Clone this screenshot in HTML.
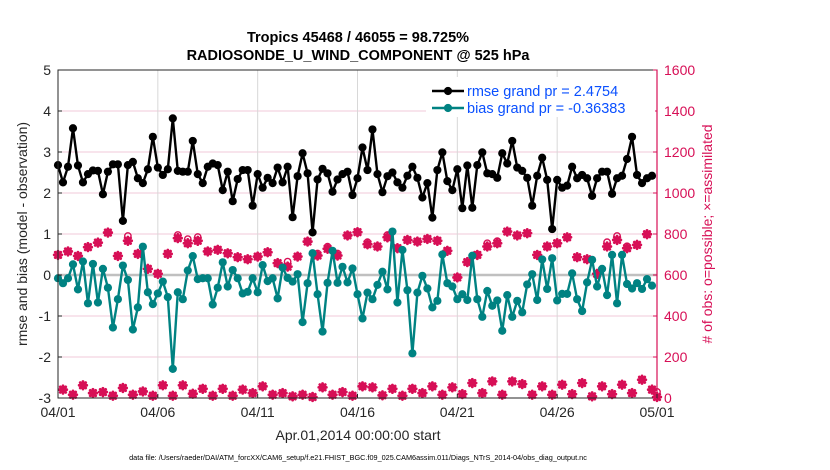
<!DOCTYPE html>
<html><head><meta charset="utf-8">
<style>
body{margin:0;background:#fff;width:830px;height:470px;overflow:hidden;font-family:"Liberation Sans",Arial,sans-serif;}
svg{display:block}
</style></head>
<body>
<svg id="chart" width="830" height="470" xmlns="http://www.w3.org/2000/svg"></svg>
<script>
const rmse=[2.68,2.26,2.64,3.58,2.67,2.26,2.46,2.55,2.54,1.97,2.52,2.70,2.70,1.32,2.68,2.76,2.36,2.24,2.58,3.37,2.62,2.44,2.58,3.82,2.54,2.52,2.52,3.27,2.46,2.24,2.64,
2.72,2.68,2.07,2.52,1.80,2.34,2.56,2.56,1.69,2.46,2.13,2.37,2.24,2.62,2.26,2.64,1.41,2.41,2.97,2.48,1.04,2.33,2.59,2.48,2.03,2.33,2.46,2.52,1.95,2.36,3.11,
2.56,3.55,2.46,2.02,2.41,2.50,2.26,2.13,2.42,2.64,2.37,1.89,2.24,1.40,2.56,2.99,2.29,2.07,2.58,1.63,2.67,1.64,2.68,2.99,2.48,2.46,2.37,2.97,2.72,3.27,
2.62,2.54,2.37,1.69,2.42,2.86,2.32,1.12,2.32,2.13,2.18,2.64,2.36,2.44,2.36,1.93,2.36,2.52,2.52,1.98,2.36,2.42,2.83,3.37,2.44,2.24,2.36,2.42];
const bias=[-0.08,-0.20,-0.08,0.26,-0.35,0.33,-0.69,0.27,-0.67,0.15,-0.31,-1.28,-0.59,0.23,-0.12,-1.33,-0.79,0.69,-0.42,-0.71,-0.45,-0.16,-0.54,-2.29,-0.42,-0.59,0.11,0.46,-0.10,-0.08,-0.08,
-0.72,-0.31,0.31,-0.28,0.12,-0.08,-0.45,-0.41,-0.08,-0.42,0.24,-0.15,-0.08,-0.57,0.18,-0.07,-0.16,0.02,-1.15,-0.20,0.53,-0.47,-1.38,-0.19,0.59,-0.19,0.20,-0.18,0.16,-0.47,-1.06,
-0.43,-0.59,-0.24,0.08,-0.35,1.06,-0.67,0.61,-0.37,-1.91,-0.43,-0.02,-0.33,-0.79,-0.63,0.50,-0.20,-0.28,-0.59,-0.47,-0.61,0.47,-0.59,-1.02,-0.39,-0.75,-0.62,-1.36,-0.49,-1.02,
-0.63,-0.91,-0.23,0.02,-0.61,0.38,-0.34,0.41,-0.62,-0.46,-0.46,0.04,-0.59,-0.88,-0.18,0.37,-0.28,0.15,-0.49,0.49,-0.69,0.49,-0.22,-0.33,-0.20,-0.34,-0.10,-0.26];
const nAssim=[698,41,715,16,693,62,736,24,758,29,807,11,693,49,767,16,703,32,630,11,606,62,703,11,780,62,755,21,767,45,715,
11,723,45,706,11,687,41,677,24,690,57,711,16,658,24,641,8,690,16,763,5,695,52,728,16,695,29,793,11,809,57,
750,52,739,13,784,45,731,11,771,45,763,24,776,57,767,16,718,52,588,19,663,73,698,24,739,81,755,16,812,81,
793,68,804,16,698,57,739,16,755,65,784,19,687,73,677,8,606,57,739,19,771,65,731,24,747,89,799,41,5];
const nPoss=[698,41,715,16,693,62,736,24,758,29,807,11,693,49,790,16,703,32,630,11,606,62,703,11,795,62,775,21,785,45,715,
11,723,45,706,11,687,41,677,24,690,57,711,16,658,24,665,8,690,16,763,5,705,52,738,16,705,29,793,11,809,57,
760,52,739,13,795,45,731,11,771,45,763,24,776,57,767,16,718,52,588,19,663,73,698,24,755,81,765,16,812,81,
793,68,804,16,698,57,739,16,755,65,784,19,687,73,677,8,606,57,760,19,790,65,740,24,747,89,799,41,30];
const xTickLabels=["04/01","04/06","04/11","04/16","04/21","04/26","05/01"];
const yTicksLeft=[-3,-2,-1,0,1,2,3,4,5];
const yTicksRight=[0,200,400,600,800,1000,1200,1400,1600];

const NS="http://www.w3.org/2000/svg";
const svg=document.getElementById('chart');
const X0=58,X1=657,Y0=70,Y1=398;
const xs=i=>X0+(X1-X0)*i/120;
const xd=d=>X0+(X1-X0)*d/30;
const yl=v=>Y1-(v+3)*(Y1-Y0)/8;
const yr=v=>Y1-v*(Y1-Y0)/1600;
const PINK="#d70f56",TEAL="#008282";
function el(t,a,txt,parent){const e=document.createElementNS(NS,t);for(const k in a)e.setAttribute(k,a[k]);if(txt!==undefined&&txt!==null)e.textContent=txt;(parent||svg).appendChild(e);return e;}

yTicksLeft.forEach(v=>{if(v>-3&&v<5){const g=el('line',{x1:X0,x2:X1,y1:yl(v),y2:yl(v),stroke:'#f0c8d8','stroke-width':1});

}});
xTickLabels.forEach((t,k)=>{if(k>0&&k<6){const g=el('line',{x1:xd(k*5),x2:xd(k*5),y1:Y0,y2:Y1,stroke:'#d8d8d8','stroke-width':1});

}});
const zl=el('line',{x1:X0,x2:X1,y1:yl(0),y2:yl(0),stroke:'#c0c0c0','stroke-width':2.5});



const gp=el('g',{fill:'none',stroke:PINK,'stroke-width':1.4});


nPoss.forEach((v,i)=>{const c=el('circle',{cx:xs(i),cy:yr(v),r:3.2},null,gp);

});
const ga=el('g',{stroke:PINK,'stroke-width':2.8,'stroke-linecap':'round'});


nAssim.forEach((v,i)=>{const cx=xs(i),cy=yr(v),s=3.8,d=s*0.72;
 const p=el('path',{d:`M${cx-s} ${cy}L${cx+s} ${cy}M${cx} ${cy-s}L${cx} ${cy+s}M${cx-d} ${cy-d}L${cx+d} ${cy+d}M${cx-d} ${cy+d}L${cx+d} ${cy-d}`},null,ga);
 
 });

function series(arr,color,name){
 const pts=arr.map((v,i)=>xs(i)+','+yl(v)).join(' ');
 const pl=el('polyline',{points:pts,fill:'none',stroke:color,'stroke-width':2.4});
 
 
 arr.forEach((v,i)=>{const c=el('circle',{cx:xs(i),cy:yl(v),r:4.1,fill:color});
 
 });
}
series(bias,TEAL,'bias');
series(rmse,'#000','rmse');

const bx=el('rect',{x:X0,y:Y0,width:X1-X0,height:Y1-Y0,fill:'none',stroke:'#262626','stroke-width':1});


const ra=el('line',{x1:X1,x2:X1,y1:Y0,y2:Y1,stroke:PINK,'stroke-width':1.2});



yTicksLeft.forEach(v=>{const t=el('text',{x:X0-7,y:yl(v)+5,'text-anchor':'end','font-size':14,fill:'#262626'},String(v));


el('line',{x1:X0,x2:X0+4,y1:yl(v),y2:yl(v),stroke:'#262626'});});
yTicksRight.forEach(v=>{const t=el('text',{x:X1+7,y:yr(v)+5,'font-size':14,fill:PINK},String(v));


el('line',{x1:X1-4,x2:X1,y1:yr(v),y2:yr(v),stroke:PINK});});
xTickLabels.forEach((s,k)=>{const t=el('text',{x:xd(k*5),y:417,'text-anchor':'middle','font-size':14,fill:'#262626'},s);


el('line',{x1:xd(k*5),x2:xd(k*5),y1:Y1,y2:Y1-4,stroke:'#262626'});});
</script>
<div style="position:absolute;left:0;top:0;width:830px;height:470px;pointer-events:none">
<svg width="830" height="470" xmlns="http://www.w3.org/2000/svg">
<text x="358" y="42" text-anchor="middle" font-size="14.5" font-weight="bold" fill="#000">Tropics 45468 / 46055 = 98.725%</text>
<text x="358" y="60" text-anchor="middle" font-size="14.5" font-weight="bold" fill="#000">RADIOSONDE_U_WIND_COMPONENT @ 525 hPa</text>
<text transform="translate(27,234) rotate(-90)" text-anchor="middle" font-size="14" fill="#262626">rmse and bias (model - observation)</text>
<text transform="translate(712,234) rotate(-90)" text-anchor="middle" font-size="14" fill="#d70f56"># of obs: o=possible; ×=assimilated</text>
<text x="358" y="440" text-anchor="middle" font-size="14" fill="#262626">Apr.01,2014 00:00:00 start</text>
<text x="358" y="460" text-anchor="middle" font-size="7.3" fill="#000">data file: /Users/raeder/DAI/ATM_forcXX/CAM6_setup/f.e21.FHIST_BGC.f09_025.CAM6assim.011/Diags_NTrS_2014-04/obs_diag_output.nc</text>
<g>
<rect x="426" y="77" width="229" height="40" fill="#fff"/>
<line x1="432" x2="464" y1="91" y2="91" stroke="#000" stroke-width="2.4"/><circle cx="448" cy="91" r="4.1" fill="#000"/>
<text x="467" y="96" font-size="14.5" fill="#0a50ff">rmse grand pr = 2.4754</text>
<line x1="432" x2="464" y1="108" y2="108" stroke="#008282" stroke-width="2.4"/><circle cx="448" cy="108" r="4.1" fill="#008282"/>
<text x="467" y="113" font-size="14.5" fill="#0a50ff">bias grand pr = -0.36383</text>
</g>
</svg></div>
</body></html>
